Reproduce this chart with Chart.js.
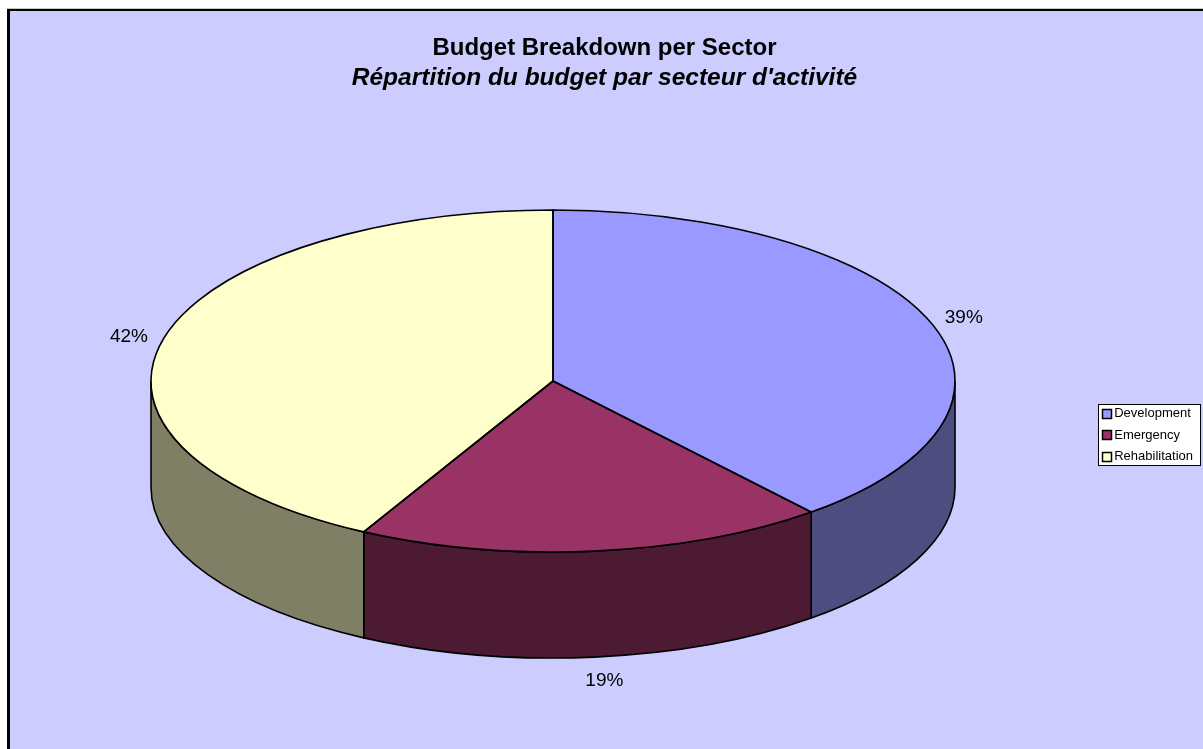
<!DOCTYPE html>
<html>
<head>
<meta charset="utf-8">
<title>Budget Breakdown per Sector</title>
<script src="https://cdn.jsdelivr.net/npm/chart.js@4"></script>
<style>
  body { margin: 0; background: #fff; }
  canvas { display: block; }
</style>
</head>
<body>
<canvas id="myChart" width="1203" height="749"></canvas>
<script>
const categories = ["Development", "Emergency", "Rehabilitation"];
const shares = [38.9, 18.9, 42.2];
const topColors = ["#9999FF", "#993366", "#FFFFCC"];
const wallColors = ["#4D4D7F", "#4D1A33", "#7F7F66"];
const chartTitle = "Budget Breakdown per Sector";
const chartSubtitle = "Répartition du budget par secteur d'activité";

// the tilted disc
const cx = 553, cy = 381, rx = 402, ry = 171, depth = 106;
const labelNudge = [[-1, 2], [6, 5], [1, 2]];

const FONT = "'Liberation Sans', Arial, sans-serif";

function slicePath(ctx, arc) {
    ctx.beginPath();
    ctx.moveTo(cx, cy);
    ctx.ellipse(cx, cy, rx, ry, 0, arc.startAngle, arc.endAngle);
    ctx.closePath();
}

const fakeDisc = {
    id: "fakeDisc",
    beforeDraw(chart) {
        const ctx = chart.ctx;
        ctx.save();
        ctx.fillStyle = "#CCCCFF";
        ctx.fillRect(10, 11, chart.width - 10, chart.height - 11);
        ctx.fillStyle = "#000";
        ctx.fillRect(7, 9, chart.width - 7, 2);
        ctx.fillRect(7, 9, 3, chart.height - 9);
        ctx.fillStyle = "#C8C8C8";
        ctx.fillRect(7, 8, chart.width - 7, 1);
        // legend box, sized from the rows the library laid out
        const hits = chart.legend.legendHitBoxes;
        const left = hits[0].left - 7.5;
        const right = Math.max(...hits.map(h => h.left + h.width)) + 7;
        const top = hits[0].top - 3;
        const last = hits[hits.length - 1];
        const bottom = last.top + last.height + 2;
        ctx.fillStyle = "#fff";
        ctx.strokeStyle = "#000";
        ctx.lineWidth = 1;
        ctx.fillRect(left, top, right - left, bottom - top);
        ctx.strokeRect(Math.round(left) + 0.5, Math.round(top) + 0.5, Math.round(right - left), Math.round(bottom - top));
        hits.forEach((h, i) => {
            ctx.fillStyle = topColors[i];
            ctx.lineWidth = 1.5;
            ctx.fillRect(Math.round(left) + 4.5, Math.round(h.top + h.height / 2) - 4.5, 9, 9);
            ctx.strokeRect(Math.round(left) + 4.5, Math.round(h.top + h.height / 2) - 4.5, 9, 9);
        });
        ctx.restore();
    },
    beforeDatasetDraw(chart, args) {
        const ctx = chart.ctx;
        // side wall, only the front half of the rim shows
        args.meta.data.forEach((arc, i) => {
            const from = Math.max(arc.startAngle, 0);
            const to = Math.min(arc.endAngle, Math.PI);
            if (to <= from) return;
            ctx.beginPath();
            ctx.ellipse(cx, cy, rx, ry, 0, from, to);
            ctx.ellipse(cx, cy + depth, rx, ry, 0, to, from, true);
            ctx.closePath();
            ctx.fillStyle = wallColors[i];
            ctx.fill();
            ctx.strokeStyle = "#000";
            ctx.lineWidth = 1.6;
            ctx.stroke();
        });
        // squash the real pie into the ellipse
        const first = args.meta.data[0];
        ctx.save();
        ctx.translate(cx, cy);
        ctx.scale(rx / first.outerRadius, ry / first.outerRadius);
        ctx.translate(-first.x, -first.y);
    },
    afterDatasetDraw(chart, args) {
        const ctx = chart.ctx;
        ctx.restore();
        ctx.save();
        ctx.strokeStyle = "#000";
        ctx.lineWidth = 1.6;
        args.meta.data.forEach(arc => {
            slicePath(ctx, arc);
            ctx.stroke();
        });
        // percent labels
        ctx.fillStyle = "#000";
        ctx.font = "19px " + FONT;
        ctx.textAlign = "center";
        ctx.textBaseline = "middle";
        args.meta.data.forEach((arc, i) => {
            const mid = (arc.startAngle + arc.endAngle) / 2;
            const x = cx + rx * 1.09 * Math.cos(mid) + labelNudge[i][0];
            const dy = Math.sin(mid) > 0.5 ? depth : 0;
            const y = cy + dy + ry * 1.11 * Math.sin(mid) + labelNudge[i][1];
            ctx.fillText(Math.round(shares[i]) + "%", x, y);
        });
        ctx.restore();
    }
};

new Chart(document.getElementById("myChart").getContext("2d"), {
    type: "pie",
    data: {
        labels: categories,
        datasets: [{
            data: shares,
            backgroundColor: topColors,
            borderWidth: 0,
            clip: false
        }]
    },
    options: {
        responsive: false,
        animation: false,
        layout: { padding: { left: 6, right: 0, top: 0, bottom: 0 } },
        plugins: {
            tooltip: { enabled: false },
            title: {
                display: true,
                text: chartTitle,
                color: "#000",
                font: { family: FONT, size: 24, weight: "bold", lineHeight: 1.2 },
                padding: { top: 34, bottom: 1 }
            },
            subtitle: {
                display: true,
                text: chartSubtitle,
                color: "#000",
                font: { family: FONT, size: 24.5, weight: "bold", style: "italic", lineHeight: 1.2 },
                padding: { top: 0, bottom: 28 }
            },
            legend: {
                position: "right",
                fullSize: false,
                labels: {
                    color: "#000",
                    font: { family: FONT, size: 13 },
                    boxWidth: 2,
                    boxHeight: 2,
                    padding: 8.5,
                    generateLabels(chart) {
                        return Chart.overrides.doughnut.plugins.legend.labels.generateLabels(chart).map(item => {
                            // swatch is drawn with the legend box
                            item.fillStyle = "rgba(0,0,0,0)";
                            item.strokeStyle = "rgba(0,0,0,0)";
                            item.lineWidth = 0;
                            return item;
                        });
                    }
                }
            }
        }
    },
    plugins: [fakeDisc]
});
</script>
</body>
</html>
